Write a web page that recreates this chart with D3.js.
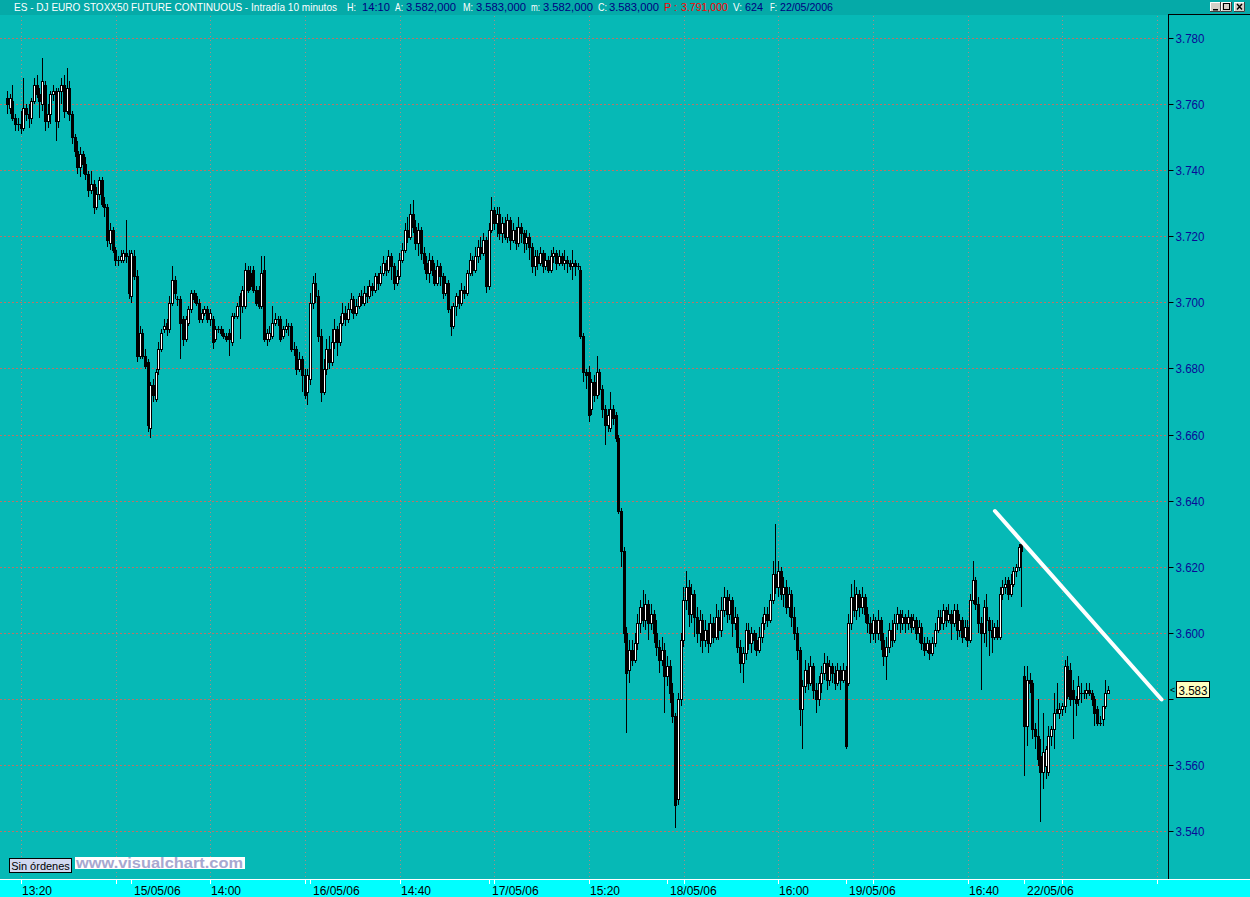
<!DOCTYPE html>
<html><head><meta charset="utf-8">
<script src="https://cdn.jsdelivr.net/npm/d3@7"></script>
<style>html,body{margin:0;padding:0;background:#06B9B6;overflow:hidden}</style>
</head><body>
<svg id="chart" width="1250" height="897"></svg>
<script>
// ---------------- DATA ----------------
// Sessions: first day starts 12:20, others 09:00; 10-minute bars
const sessionDates = ["12/05/06","15/05/06","16/05/06","17/05/06","18/05/06","19/05/06","22/05/06"];
const sessionStart = ["12:20","09:00","09:00","09:00","09:00","09:00","09:00"];
const sessionBars  = [46,66,66,66,66,66,32];
const dayLabels = ["15/05/06","16/05/06","17/05/06","18/05/06","19/05/06","22/05/06"];
const timeLabels = ["13:20","14:00","14:40","15:20","16:00","16:40"];
const priceTicks = [3540,3560,3580,3600,3620,3640,3660,3680,3700,3720,3740,3760,3780];

const opens = [
 3762,3759,3761,3756,3754,3754,3753,3759,3757,3756,3761,3766,3763,3760,3766,3755,3757,3763,3764,3755,3764,3766,3758,3765,3757,3750,3746,3741,3745,3742,3739,3734,3736,3729,3733,3737,3730,3729,3718,3722,3716,3713,3713,3713,3715,3714,
 3702,3714,3708,3684,3691,3684,3682,3662,3675,3671,3680,3686,3692,3694,3692,3700,3707,3701,3701,3695,3689,3694,3698,3703,3702,3700,3695,3697,3698,3695,3695,3689,3692,3692,3691,3690,3691,3688,3696,3696,3702,3699,3699,3710,3709,3710,3704,3704,3699,3710,3689,3689,3690,3694,3695,3695,3690,3692,3693,3693,3686,3686,3680,3683,3678,3673,
 3677,3700,3706,3702,3690,3673,3680,3686,3682,3688,3692,3688,3694,3697,3695,3698,3701,3697,3699,3702,3700,3703,3702,3705,3704,3708,3706,3709,3712,3710,3714,3711,3706,3708,3713,3716,3722,3720,3727,3723,3718,3722,3715,3712,3709,3713,3710,3706,3711,3708,3703,3706,3698,3693,3699,3702,3700,3704,3703,3709,3713,3710,3714,3717,3715,3719,
 3705,3722,3728,3724,3727,3721,3724,3720,3725,3719,3722,3718,3723,3721,3718,3720,3717,3711,3714,3712,3715,3711,3713,3710,3714,3715,3712,3714,3712,3713,3712,3711,3712,3711,3710,3690,3679,3679,3668,3676,3672,3679,3674,3668,3663,3662,3668,3666,3659,3637,3625,3600,3589,3595,3592,3597,3603,3608,3604,3609,3603,3606,3600,3596,3592,3595,
 3587,3590,3582,3575,3550,3580,3598,3610,3614,3606,3612,3605,3600,3604,3598,3601,3597,3603,3599,3605,3601,3607,3611,3606,3610,3603,3605,3596,3591,3594,3601,3597,3600,3598,3595,3599,3603,3606,3604,3610,3618,3614,3619,3612,3614,3608,3612,3605,3600,3595,3577,3584,3589,3585,3590,3583,3580,3585,3588,3591,3586,3590,3588,3585,3589,3586,
 3589,3585,3603,3611,3607,3612,3608,3611,3606,3603,3600,3604,3600,3604,3598,3593,3596,3601,3598,3603,3606,3603,3605,3603,3605,3602,3604,3600,3602,3597,3595,3597,3594,3597,3601,3605,3603,3607,3604,3606,3603,3607,3601,3604,3599,3602,3598,3610,3616,3609,3603,3600,3608,3604,3601,3599,3602,3599,3612,3614,3616,3612,3615,3619,3620,3627,
 3587,3572,3586,3585,3571,3569,3563,3558,3560,3558,3569,3571,3577,3576,3577,3578,3590,3589,3583,3580,3580,3582,3582,3582,3583,3582,3580,3577,3573,3574,3578,3582
];
const highs = [
 3764,3763,3766,3757,3756,3758,3768,3760,3760,3762,3768,3769,3765,3774,3767,3760,3764,3766,3765,3765,3768,3769,3771,3767,3758,3751,3749,3747,3746,3744,3740,3740,3737,3735,3738,3738,3732,3730,3724,3723,3717,3714,3716,3716,3725,3716,
 3716,3716,3710,3693,3692,3686,3683,3676,3677,3680,3688,3692,3695,3695,3702,3711,3708,3702,3702,3696,3696,3699,3704,3704,3703,3701,3698,3699,3699,3698,3696,3693,3693,3693,3692,3691,3692,3697,3697,3700,3703,3705,3712,3711,3711,3711,3705,3705,3714,3714,3692,3693,3699,3697,3696,3696,3693,3695,3694,3694,3688,3687,3685,3684,3680,3680,
 3703,3708,3709,3704,3692,3683,3689,3690,3692,3695,3693,3696,3700,3699,3700,3703,3702,3701,3703,3704,3705,3705,3707,3706,3709,3709,3711,3714,3713,3716,3715,3712,3710,3715,3718,3724,3726,3730,3731,3725,3724,3723,3717,3714,3715,3714,3712,3713,3712,3709,3708,3707,3699,3700,3703,3704,3706,3705,3710,3715,3714,3717,3719,3720,3721,3720,
 3724,3732,3729,3729,3729,3726,3726,3727,3726,3724,3723,3726,3724,3722,3722,3721,3718,3716,3716,3717,3716,3715,3714,3716,3717,3716,3716,3715,3716,3714,3713,3716,3713,3712,3711,3691,3680,3681,3677,3678,3684,3680,3675,3669,3668,3673,3669,3667,3660,3638,3626,3602,3598,3598,3600,3606,3610,3613,3612,3610,3609,3607,3604,3598,3599,3597,
 3593,3592,3585,3576,3582,3600,3614,3619,3616,3615,3613,3608,3607,3606,3604,3603,3606,3605,3609,3607,3611,3614,3613,3612,3611,3608,3606,3598,3596,3603,3603,3602,3601,3600,3602,3605,3608,3608,3612,3622,3633,3622,3620,3617,3616,3614,3613,3608,3602,3596,3586,3592,3591,3593,3591,3585,3587,3590,3594,3593,3592,3591,3590,3591,3590,3591,
 3590,3606,3615,3616,3614,3613,3614,3612,3608,3605,3606,3605,3607,3605,3600,3599,3603,3604,3606,3608,3607,3607,3606,3607,3606,3606,3605,3604,3603,3599,3599,3598,3599,3603,3607,3607,3609,3608,3609,3607,3609,3609,3606,3605,3604,3604,3612,3622,3617,3611,3605,3610,3612,3605,3604,3603,3604,3614,3616,3617,3617,3618,3620,3621,3627,3628,
 3590,3590,3588,3586,3573,3580,3568,3576,3566,3572,3572,3582,3585,3579,3579,3592,3593,3591,3586,3581,3587,3585,3583,3585,3585,3583,3581,3578,3575,3578,3586,3584
];
const lows = [
 3757,3757,3755,3752,3752,3751,3752,3755,3753,3754,3760,3762,3756,3758,3752,3753,3754,3761,3749,3753,3760,3756,3757,3755,3748,3744,3739,3738,3739,3737,3732,3733,3727,3728,3731,3729,3726,3717,3716,3715,3711,3711,3712,3712,3712,3701,
 3700,3707,3682,3683,3683,3680,3661,3659,3670,3670,3678,3685,3691,3690,3691,3699,3701,3699,3683,3687,3688,3693,3697,3700,3699,3694,3694,3696,3694,3693,3686,3688,3691,3690,3689,3688,3684,3687,3695,3695,3689,3697,3698,3703,3704,3703,3699,3698,3698,3688,3687,3688,3689,3693,3693,3688,3689,3691,3690,3685,3684,3678,3679,3673,3671,3669,
 3675,3698,3700,3688,3670,3672,3678,3680,3681,3686,3684,3687,3693,3693,3694,3697,3695,3696,3698,3699,3699,3700,3701,3702,3703,3704,3705,3708,3708,3709,3707,3704,3705,3707,3712,3715,3718,3719,3721,3716,3714,3713,3710,3707,3706,3708,3705,3705,3705,3701,3702,3697,3690,3692,3696,3698,3699,3701,3702,3708,3708,3709,3712,3713,3714,3703,
 3704,3721,3722,3720,3719,3718,3719,3718,3716,3718,3716,3717,3718,3715,3716,3713,3709,3708,3710,3711,3709,3710,3709,3709,3712,3710,3711,3711,3710,3709,3710,3707,3708,3710,3689,3676,3674,3664,3666,3670,3671,3672,3665,3657,3661,3661,3663,3658,3636,3620,3597,3570,3585,3590,3591,3595,3600,3602,3601,3598,3601,3597,3593,3588,3590,3576,
 3584,3579,3573,3541,3548,3578,3596,3607,3602,3603,3599,3597,3596,3594,3596,3594,3596,3597,3598,3598,3599,3605,3603,3604,3599,3601,3594,3588,3585,3592,3595,3594,3595,3593,3594,3597,3601,3602,3603,3609,3612,3611,3610,3608,3606,3605,3602,3598,3592,3572,3565,3582,3583,3584,3580,3576,3578,3582,3586,3583,3584,3585,3583,3584,3583,3585,
 3565,3584,3601,3605,3604,3605,3606,3603,3600,3597,3598,3597,3598,3595,3590,3586,3594,3596,3597,3601,3600,3601,3600,3601,3600,3601,3598,3597,3595,3593,3594,3592,3593,3596,3600,3601,3601,3602,3603,3598,3602,3598,3599,3597,3598,3596,3597,3609,3607,3600,3583,3597,3596,3593,3594,3598,3598,3598,3610,3612,3610,3611,3614,3617,3619,3608,
 3557,3566,3582,3568,3565,3560,3543,3553,3556,3557,3566,3565,3576,3574,3575,3576,3580,3578,3568,3575,3578,3579,3580,3580,3581,3578,3572,3572,3572,3572,3577,3582
];
const closes = [
 3760,3762,3756,3754,3754,3753,3759,3757,3756,3761,3766,3763,3761,3767,3755,3757,3763,3764,3755,3764,3766,3758,3765,3757,3750,3746,3741,3745,3742,3739,3734,3736,3729,3733,3737,3730,3729,3719,3722,3716,3713,3713,3714,3715,3714,3703,
 3715,3708,3684,3691,3684,3681,3663,3675,3672,3679,3686,3691,3693,3692,3700,3707,3703,3701,3694,3689,3695,3698,3703,3701,3700,3695,3697,3698,3695,3697,3688,3692,3692,3691,3690,3689,3689,3696,3696,3699,3699,3704,3710,3704,3705,3704,3700,3699,3709,3689,3691,3691,3694,3695,3695,3689,3692,3693,3693,3686,3686,3680,3683,3678,3672,3678,
 3700,3706,3702,3690,3673,3680,3686,3682,3688,3692,3688,3694,3697,3695,3698,3701,3697,3699,3702,3700,3703,3702,3705,3704,3708,3706,3709,3712,3710,3714,3711,3706,3708,3713,3716,3722,3720,3727,3723,3718,3722,3715,3712,3709,3713,3710,3706,3711,3708,3703,3706,3698,3693,3699,3702,3700,3704,3703,3709,3713,3710,3714,3717,3715,3719,3705,
 3722,3728,3724,3727,3721,3724,3720,3725,3719,3722,3718,3723,3721,3718,3720,3717,3711,3714,3712,3715,3711,3713,3710,3714,3715,3712,3714,3712,3713,3712,3711,3712,3711,3711,3690,3679,3678,3666,3676,3672,3679,3674,3668,3663,3666,3668,3665,3659,3637,3625,3600,3588,3595,3592,3597,3603,3608,3604,3609,3603,3606,3600,3596,3592,3595,3587,
 3590,3582,3575,3548,3580,3598,3610,3614,3606,3612,3605,3600,3604,3598,3601,3597,3603,3599,3605,3601,3607,3611,3606,3610,3603,3605,3596,3591,3594,3601,3597,3600,3598,3595,3599,3603,3606,3604,3610,3618,3614,3619,3612,3614,3608,3612,3605,3600,3595,3577,3584,3589,3585,3590,3583,3580,3585,3588,3591,3586,3590,3588,3585,3589,3586,3589,
 3566,3603,3611,3607,3612,3608,3611,3606,3603,3600,3604,3600,3604,3598,3593,3596,3601,3598,3603,3606,3603,3605,3603,3605,3602,3604,3600,3602,3597,3595,3597,3594,3597,3601,3605,3603,3607,3604,3606,3603,3607,3601,3604,3599,3602,3598,3610,3616,3609,3603,3600,3608,3604,3601,3599,3602,3599,3612,3614,3615,3612,3615,3619,3620,3626,3625,
 3572,3586,3585,3571,3569,3562,3558,3564,3565,3569,3571,3576,3576,3577,3578,3590,3581,3580,3580,3579,3584,3582,3582,3583,3582,3580,3576,3573,3573,3578,3582,3583
];
// hand-drawn trend line (bar index, price)
const trendBars = [365.2, 426.8];
const trendPrices = [3637, 3580];
// header texts
const headerTexts = ["ES - DJ EURO STOXX50 FUTURE CONTINUOUS - Intradía 10 minutos","H:","14:10","A:","3.582,000","M:","3.583,000","m:","3.582,000","C:","3.583,000","P :","3.791,000","V:","624","F:","22/05/2006"];
const headerKinds = ["l","l","v","l","v","l","v","l","v","l","v","p","p","l","v","l","v"];

// ---------------- LAYOUT ----------------
const headerX = [14,347,362,395,406,463,476,531,543,598,609,664,681,733,745,770,780];
const headerW = [323,9,28,8,50,10,50,9,50,9,50,13,47,9,18,7,53];
const FONT = "'Liberation Sans', Arial, sans-serif";
const BG = "#06B9B6", HEADER_BG = "#05AAA8";
const plotTop = 15, plotBottom = 879, axisX = 1168;

// bar times (structure)
const barTimes = [], barDay = [];
sessionBars.forEach((n, d) => {
  const [hh, mm] = sessionStart[d].split(":").map(Number);
  for (let k = 0; k < n; k++) {
    const m = hh * 60 + mm + k * 10;
    barTimes.push(String(Math.floor(m / 60)).padStart(2, "0") + ":" + String(m % 60).padStart(2, "0"));
    barDay.push(d);
  }
});
const N = closes.length;
const bars = d3.range(N).map(i => ({i, o: opens[i], h: highs[i], l: lows[i], c: closes[i]}));

const x = d3.scaleLinear().domain([0, 407]).range([7, 1108]);
const y = d3.scaleLinear().domain([3540, 3780]).range([831.7, 38.3]);

const svg = d3.select("#chart").attr("font-family", FONT);

// patterns for the dotted grid
const defs = svg.append("defs");
const gridColor = "#B87468";
const ph = defs.append("pattern").attr("id", "dotH").attr("patternUnits", "userSpaceOnUse")
  .attr("x", 0).attr("y", 0).attr("width", 4).attr("height", 1);
ph.append("rect").attr("x", 0).attr("y", 0).attr("width", 2).attr("height", 1).attr("fill", gridColor);
const pv = defs.append("pattern").attr("id", "dotV").attr("patternUnits", "userSpaceOnUse")
  .attr("x", 0).attr("y", 0).attr("width", 1).attr("height", 4);
pv.append("rect").attr("x", 0).attr("y", 0).attr("width", 1).attr("height", 1).attr("fill", "#A88C86");

// background
svg.append("rect").attr("width", 1250).attr("height", 897).attr("fill", BG);

// header
svg.append("rect").attr("x", 0).attr("y", 0).attr("width", 1250).attr("height", 15).attr("fill", HEADER_BG);
const colorOf = k => k === "l" ? "#FFFFFF" : (k === "v" ? "#000080" : "#FF0000");
svg.append("g").selectAll("text").data(headerTexts).join("text")
  .attr("x", (d, i) => headerX[i]).attr("y", 11)
  .attr("font-size", 11).attr("fill", (d, i) => colorOf(headerKinds[i]))
  .attr("textLength", (d, i) => headerW[i]).attr("lengthAdjust", "spacingAndGlyphs")
  .text(d => d);

// window buttons
const btnX = [1210, 1221, 1234], btnW = [11, 11, 11];
const btns = svg.append("g");
btnX.forEach((bx, k) => {
  const g = btns.append("g");
  g.append("rect").attr("x", bx).attr("y", 2).attr("width", btnW[k]).attr("height", 10).attr("fill", "#D4D0C8");
  g.append("path").attr("d", `M${bx+0.5},12 V2.5 H${bx+btnW[k]}`).attr("stroke", "#fff").attr("fill", "none");
  g.append("path").attr("d", `M${bx},11.5 H${bx+btnW[k]-0.5} V2`).attr("stroke", "#404040").attr("fill", "none");
  if (k === 0) g.append("rect").attr("x", bx + 3).attr("y", 9).attr("width", 5).attr("height", 1.5).attr("fill", "#000");
  if (k === 1) g.append("rect").attr("x", bx + 2.5).attr("y", 3.5).attr("width", 6).attr("height", 6).attr("fill", "none").attr("stroke", "#000").attr("stroke-width", 1);
  if (k === 2) g.append("path").attr("d", `M${bx+3},4 L${bx+8},9.5 M${bx+8},4 L${bx+3},9.5`).attr("stroke", "#000").attr("stroke-width", 1.4);
});
svg.append("line").attr("x1", axisX).attr("x2", 1250).attr("y1", 14.5).attr("y2", 14.5).attr("stroke", "#000");

// grid (dotted, drawn as pattern-filled 1px strips)
const gridIdx = d3.range(6, 430, 35);
const gridX = i => Math.round(x(i) - 2.4);
const gridY = d => Math.floor(y(d) + 0.05);
const gg = svg.append("g").attr("shape-rendering", "crispEdges");
gg.selectAll("rect.v").data(gridIdx).join("rect").attr("class", "v")
  .attr("x", gridX).attr("y", plotTop).attr("width", 1).attr("height", plotBottom - plotTop)
  .attr("fill", "url(#dotV)");
gg.selectAll("rect.h").data(priceTicks).join("rect").attr("class", "h")
  .attr("x", 0).attr("y", gridY).attr("width", axisX).attr("height", 1)
  .attr("fill", "url(#dotH)");

// candles
const cg = svg.append("g").attr("shape-rendering", "crispEdges");
const candle = cg.selectAll("g").data(bars).join("g");
candle.append("rect")
  .attr("x", d => Math.round(x(d.i)))
  .attr("y", d => Math.round(y(Math.max(d.h, d.o, d.c))))
  .attr("width", 1)
  .attr("height", d => Math.max(1, Math.round(y(Math.min(d.l, d.o, d.c))) - Math.round(y(Math.max(d.h, d.o, d.c)))))
  .attr("fill", "#000");
candle.append("rect")
  .attr("x", d => Math.round(x(d.i)) - 1)
  .attr("y", d => Math.round(y(Math.max(d.o, d.c))))
  .attr("width", 3)
  .attr("height", d => Math.max(1, Math.round(y(Math.min(d.o, d.c))) - Math.round(y(Math.max(d.o, d.c))) + 1))
  .attr("fill", "#000");
candle.filter(d => d.c > d.o).append("rect")
  .attr("x", d => Math.round(x(d.i)))
  .attr("y", d => Math.round(y(Math.max(d.o, d.c))) + 1)
  .attr("width", 1)
  .attr("height", d => Math.max(0, Math.round(y(Math.min(d.o, d.c))) - Math.round(y(Math.max(d.o, d.c))) - 1))
  .attr("fill", "#FFFFFF");

// trend line
svg.append("line")
  .attr("x1", x(trendBars[0])).attr("y1", y(trendPrices[0]))
  .attr("x2", x(trendBars[1])).attr("y2", y(trendPrices[1]))
  .attr("stroke", "#FFFFFF").attr("stroke-width", 4).attr("stroke-linecap", "round");

// right axis
svg.append("line").attr("x1", axisX + 0.5).attr("x2", axisX + 0.5).attr("y1", plotTop).attr("y2", plotBottom).attr("stroke", "#000");
const last = closes[N - 1];
const yAxis = d3.axisRight(y).tickValues(priceTicks).tickSize(5).tickPadding(2)
  .tickFormat(d => (d / 1000).toFixed(3));
const ya = svg.append("g").attr("transform", `translate(${axisX + 0.5},0)`).call(yAxis);
ya.select(".domain").remove();
ya.selectAll(".tick").attr("transform", d => `translate(0,${gridY(d) + 0.5})`);
ya.selectAll(".tick line").attr("stroke", "#000");
ya.selectAll(".tick text").attr("fill", "#0A0A96").attr("font-size", 13).attr("font-family", FONT)
  .attr("textLength", 29).attr("lengthAdjust", "spacingAndGlyphs");
// the tick label hidden behind the last-price box is clipped to its visible lower sliver
const ly = Math.round(y(last));
defs.append("clipPath").attr("id", "belowBox").append("rect")
  .attr("x", -10).attr("y", 8).attr("width", 120).attr("height", 30);
ya.selectAll(".tick").filter(d => Math.abs(y(d) - ly) < 12).select("text")
  .attr("clip-path", "url(#belowBox)");

// last price marker
svg.append("text").attr("x", 1170).attr("y", ly + 3).attr("font-size", 9).attr("fill", "#000").text("<");
svg.append("rect").attr("x", 1176.5).attr("y", ly - 8.5).attr("width", 33).attr("height", 16)
  .attr("fill", "#FFFFC0").attr("stroke", "#000");
svg.append("text").attr("x", 1193).attr("y", ly + 5).attr("text-anchor", "middle")
  .attr("font-size", 13).attr("fill", "#000").attr("textLength", 29).attr("lengthAdjust", "spacingAndGlyphs")
  .text((last / 1000).toFixed(3));

// bottom axis band
svg.append("rect").attr("x", 0).attr("y", plotBottom).attr("width", 1250).attr("height", 897 - plotBottom).attr("fill", "#00FFFF");
svg.append("line").attr("x1", 0).attr("x2", 1250).attr("y1", plotBottom + 0.5).attr("y2", plotBottom + 0.5).attr("stroke", "#FFFFFF");

// day-start indices and time-label indices
const dayStartIdx = dayLabels.map(lbl => barDay.findIndex((d, i) => sessionDates[d] === lbl));
const timeIdx = timeLabels.map((t, k) => barTimes.findIndex((bt, i) => barDay[i] === k && bt === t));
const dayX = i => Math.round(x(i));

const bt = svg.append("g").attr("shape-rendering", "crispEdges");
bt.selectAll("rect.g").data(gridIdx).join("rect").attr("class", "g")
  .attr("x", gridX).attr("y", plotBottom).attr("width", 1).attr("height", 5).attr("fill", "#FFFFFF");
bt.selectAll("rect.d").data(dayStartIdx).join("rect").attr("class", "d")
  .attr("x", dayX).attr("y", plotBottom).attr("width", 1).attr("height", 5).attr("fill", "#FFFFFF");
svg.append("g").selectAll("text").data(timeIdx).join("text")
  .attr("x", i => gridX(i) + 1).attr("y", 895).attr("font-size", 12).attr("fill", "#000")
  .text((i, k) => timeLabels[k]);
svg.append("g").selectAll("text").data(dayStartIdx).join("text")
  .attr("x", i => dayX(i) + 3).attr("y", 895).attr("font-size", 12).attr("fill", "#000")
  .text((i, k) => dayLabels[k]);

// "Sin órdenes" button and logo
svg.append("rect").attr("x", 9.5).attr("y", 858.5).attr("width", 62).attr("height", 14)
  .attr("fill", "#D0D8F0").attr("stroke", "#000");
svg.append("text").attr("x", 40.5).attr("y", 869.5).attr("text-anchor", "middle").attr("font-size", 11).attr("fill", "#000").text("Sin órdenes");
svg.append("rect").attr("x", 75).attr("y", 857).attr("width", 170).attr("height", 12).attr("fill", "#FFFFFF");
svg.append("text").attr("x", 76).attr("y", 868).attr("font-size", 14).attr("font-weight", "bold")
  .attr("fill", "#A8A8D0").attr("textLength", 167).attr("lengthAdjust", "spacingAndGlyphs").text("www.visualchart.com");
</script>
</body></html>
